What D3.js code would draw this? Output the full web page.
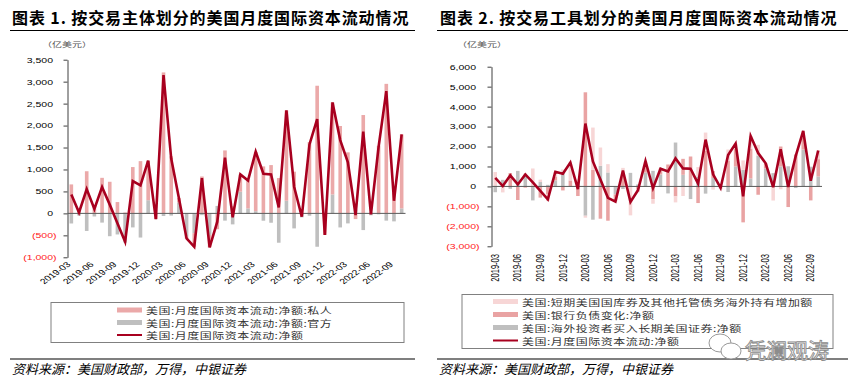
<!DOCTYPE html>
<html lang="zh-CN">
<head>
<meta charset="UTF-8">
<title>美国月度国际资本流动情况</title>
<style>
    body { margin: 0; background: #fff; }
    svg text { font-family: "Liberation Sans", Arial, sans-serif; }
    svg text.cjk { font-family: "Noto Sans CJK SC", sans-serif; }
</style>
</head>
<body>
<div id="chart-container"></div>
<script src="https://d3js.org/d3.v7.min.js"></script>
<script>
// months 2019-03 .. 2022-10
const months = [
    "2019-03","2019-04","2019-05","2019-06","2019-07","2019-08","2019-09","2019-10","2019-11","2019-12",
    "2020-01","2020-02","2020-03","2020-04","2020-05","2020-06","2020-07","2020-08","2020-09","2020-10","2020-11","2020-12",
    "2021-01","2021-02","2021-03","2021-04","2021-05","2021-06","2021-07","2021-08","2021-09","2021-10","2021-11","2021-12",
    "2022-01","2022-02","2022-03","2022-04","2022-05","2022-06","2022-07","2022-08","2022-09","2022-10"
];

// 净额 (亿美元)
const netFlow = [430, 20, 554, 100, 600, 200, -225, -645, 736, 640, 1200, -130, 3150, 1250, 350, -570, -760, 800, -775, -190, 1270, -90,
    888, 751, 1404, 903, 888, 137, 2345, 607, -76, 1571, 2148, -493, 2527, 1670, 1161, -38, 1860, -23, 1518, 2786, 288, 1799];

// 图表1: 私人 / 官方
const privateFlow = [660, 70, 960, 170, 810, 720, 258, 20, 1055, 1190, 900, -80, 3210, 1300, 100, -40, -310, 840, -285, -360, 1434, 160,
    395, 640, 1350, 1070, 1100, 805, 2057, 950, 14, 1624, 2907, -300, 2095, 1990, 1390, -130, 2240, 20, 1540, 2950, 470, 1685];
const officialFlow = [-230, -50, -400, -70, -210, -520, -480, -665, -319, -550, 300, -50, -60, -50, 250, -530, -450, -40, -490, 170, -165, -250,
    493, 114, 50, -167, -213, -668, 288, -342, -90, -53, -760, -190, 432, -320, -228, 90, -380, -43, -22, -165, -182, 114];

// 图表2: 短期国库券 / 银行负债 / 长期证券
const tbillFlow = [720, -300, 0, 0, 50, 900, 120, -325, 236, 100, 900, 250, -100, 2117, 917, 417, -60, 430, -1450, -140, 270, -233,
    0, 0, -300, -480, 0, 470, 900, -160, -40, 550, 250, 470, 630, 537, 0, -667, -140, 0, 0, 340, 0, 432];
const bankFlow = [0, 0, 670, -680, -60, 0, -560, -400, 200, -200, 300, -480, 4717, 833, -1617, -1717, -300, 500, 0, -150, 300, -633,
    300, 1100, -500, 800, 1500, -833, 1800, 350, -100, 1300, 900, -1800, 1500, -417, 260, -40, 1000, -1033, 1600, 600, -700, 867];
const longTermFlow = [-290, 330, -120, 780, 600, -700, 220, 80, 300, 750, 0, 100, -1467, -1667, 1033, 700, -400, -130, 680, 100, 700, 783,
    600, -350, 2200, 583, -633, 500, -360, 420, 60, -280, 1000, 833, 400, 1550, 900, 667, 1000, 1010, -80, 1850, 990, 500];

const ticks1 = [3500, 3000, 2500, 2000, 1500, 1000, 500, 0, -500, -1000];
const ticks2 = [6000, 5000, 4000, 3000, 2000, 1000, 0, -1000, -2000, -3000];

const SQ = 0.72; // chart text is squashed vertically in the picture
const LINE_COLOR = "#A8001F";

const svg = d3.select("#chart-container").append("svg")
    .attr("width", 861)
    .attr("height", 387)
    .style("background", "#fff");

function fmt(v) {
    const f = d3.format(",");
    return v < 0 ? "(" + f(-v) + ")" : f(v);
}

function drawPanel(o) {
    const g = svg.append("g");

    // title + rules
    g.append("text").attr("class", "cjk")
        .attr("x", o.titleX).attr("y", 24)
        .attr("font-size", 16).attr("font-weight", 700)
        .attr("letter-spacing", 0.9)
        .text(o.title);
    g.append("line").attr("x1", o.ruleX0).attr("x2", o.ruleX1)
        .attr("y1", 30.5).attr("y2", 30.5)
        .attr("stroke", "#000").attr("stroke-width", 1.2);
    g.append("line").attr("x1", o.ruleX0).attr("x2", o.ruleX1)
        .attr("y1", 359).attr("y2", 359)
        .attr("stroke", "#000").attr("stroke-width", 1.2);
    g.append("text").attr("class", "cjk")
        .attr("x", o.ruleX0 + 2).attr("y", 374)
        .attr("font-size", 13).attr("font-style", "italic")
        .text("资料来源：美国财政部，万得，中银证券");

    // unit
    g.append("text").attr("class", "cjk")
        .attr("transform", `translate(${o.unitX}, 47) scale(1, ${SQ})`)
        .attr("font-size", 10).attr("fill", "#555")
        .text("（亿美元）");

    const x = d3.scaleBand().domain(months).range([o.x0, o.x1]).padding(0);
    const y = d3.scaleLinear().domain([o.ticks[o.ticks.length - 1], o.ticks[0]]).range([o.yBottom, o.yTop]);

    // y axis
    const yAxis = g.append("g")
        .attr("transform", `translate(${o.x0}, 0)`)
        .call(d3.axisLeft(y).tickValues(o.ticks).tickSize(4).tickSizeOuter(0).tickFormat(fmt));
    yAxis.select(".domain").attr("stroke", "#404040");
    yAxis.selectAll(".tick line").attr("stroke", "#404040");
    yAxis.selectAll(".tick text")
        .attr("font-size", 10.5)
        .attr("x", d => d < 0 ? o.labelOff : o.labelOff - 3.5)
        .attr("transform", `scale(1, ${SQ})`)
        .attr("fill", d => d < 0 ? "#FF2020" : "#000");

    // stacked bars
    const rows = months.map((m, i) => {
        const r = {month: m};
        o.series.forEach(s => { r[s.key] = s.values[i]; });
        return r;
    });
    const stacked = d3.stack().keys(o.series.map(s => s.key)).offset(d3.stackOffsetDiverging)(rows);
    const barW = x.bandwidth() * 0.47;
    stacked.forEach((layer, li) => {
        g.append("g").selectAll("rect").data(layer).enter().append("rect")
            .attr("x", d => x(d.data.month) + (x.bandwidth() - barW) / 2)
            .attr("y", d => y(Math.max(d[0], d[1])))
            .attr("width", barW)
            .attr("height", d => Math.abs(y(d[0]) - y(d[1])))
            .attr("fill", o.series[li].color);
    });

    // zero line
    g.append("line").attr("x1", o.x0).attr("x2", o.x1)
        .attr("y1", y(0)).attr("y2", y(0))
        .attr("stroke", "#595959").attr("stroke-width", 1);

    // net line
    g.append("path").datum(netFlow)
        .attr("fill", "none")
        .attr("stroke", LINE_COLOR)
        .attr("stroke-width", 2.6)
        .attr("d", d3.line()
            .x((d, i) => x(months[i]) + x.bandwidth() / 2)
            .y(d => y(d)));

    // x labels every 3 months
    const shown = months.filter((m, i) => i % 3 === 0 && i < 43);
    g.append("g").selectAll("text").data(shown).enter().append("text")
        .attr("transform", d => `translate(${x(d) + x.bandwidth() / 2 + o.xLabDx}, ${o.xLabY}) scale(1, ${SQ}) rotate(${o.xLabRot})`)
        .attr("text-anchor", "end")
        .attr("dy", o.xLabRot === -90 ? "0.35em" : "0")
        .attr("font-size", 10.5)
        .attr("fill", "#000")
        .text(d => d);

    // legend
    const lg = o.legend;
    g.append("rect").attr("x", lg.x0).attr("y", lg.y0)
        .attr("width", lg.x1 - lg.x0).attr("height", lg.y1 - lg.y0)
        .attr("fill", "#fff").attr("stroke", "#808080").attr("stroke-width", 1);
    lg.items.forEach((it, i) => {
        const cy = lg.rowY + i * lg.rowGap;
        if (it.line) {
            g.append("line").attr("x1", lg.swX).attr("x2", lg.swX + 25)
                .attr("y1", cy).attr("y2", cy)
                .attr("stroke", LINE_COLOR).attr("stroke-width", 2);
        } else {
            g.append("rect").attr("x", lg.swX).attr("y", cy - 2.5)
                .attr("width", 25).attr("height", 5).attr("fill", it.color);
        }
        g.append("text").attr("class", "cjk")
            .attr("transform", `translate(${lg.swX + 29}, ${cy + 4}) scale(1, ${SQ})`)
            .attr("font-size", 12).attr("letter-spacing", 0.5)
            .attr("fill", "#333")
            .text(it.label);
    });
}

drawPanel({
    title: "图表 1. 按交易主体划分的美国月度国际资本流动情况",
    titleX: 12, ruleX0: 10, ruleX1: 415, unitX: 42,
    x0: 67.5, x1: 405.5, yTop: 59.7, yBottom: 257.3,
    ticks: ticks1, labelOff: -11,
    xLabY: 265, xLabDx: 0, xLabRot: -45,
    series: [
        {key: "official", values: officialFlow, color: "#BFBFBF"},
        {key: "private", values: privateFlow, color: "#EBA9A9"}
    ],
    legend: {
        x0: 51, y0: 302.5, x1: 404, y1: 342.5, swX: 117, rowY: 310, rowGap: 12.5,
        items: [
            {label: "美国:月度国际资本流动:净额:私人", color: "#EBA9A9"},
            {label: "美国:月度国际资本流动:净额:官方", color: "#BFBFBF"},
            {label: "美国:月度国际资本流动:净额", line: true}
        ]
    }
});

drawPanel({
    title: "图表 2. 按交易工具划分的美国月度国际资本流动情况",
    titleX: 440, ruleX0: 437, ruleX1: 848, unitX: 457,
    x0: 491.5, x1: 822, yTop: 66.7, yBottom: 246.3,
    ticks: ticks2, labelOff: -12,
    xLabY: 254, xLabDx: 0, xLabRot: -90,
    series: [
        {key: "longTerm", values: longTermFlow, color: "#BFBFBF"},
        {key: "bank", values: bankFlow, color: "#E9A3A3"},
        {key: "tbill", values: tbillFlow, color: "#F7D6D6"}
    ],
    legend: {
        x0: 462, y0: 294.5, x1: 833, y1: 348.5, swX: 493, rowY: 301.5, rowGap: 13,
        items: [
            {label: "美国:短期美国国库券及其他托管债务海外持有增加额", color: "#F7D6D6"},
            {label: "美国:银行负债变化:净额", color: "#E9A3A3"},
            {label: "美国:海外投资者买入长期美国证券:净额", color: "#BFBFBF"},
            {label: "美国:月度国际资本流动:净额", line: true}
        ]
    }
});

// watermark
const wm = svg.append("g").attr("fill", "#fff").attr("stroke", "#8c8c8c").attr("stroke-width", 0.9);
wm.append("ellipse").attr("cx", 720).attr("cy", 343).attr("rx", 11).attr("ry", 9);
wm.append("ellipse").attr("cx", 731).attr("cy", 351).attr("rx", 10).attr("ry", 8);
svg.append("text").attr("class", "cjk")
    .attr("x", 745).attr("y", 358)
    .attr("font-size", 21)
    .attr("fill", "#fff").attr("stroke", "#8c8c8c").attr("stroke-width", 0.9)
    .text("凭澜观涛");
</script>
</body>
</html>
